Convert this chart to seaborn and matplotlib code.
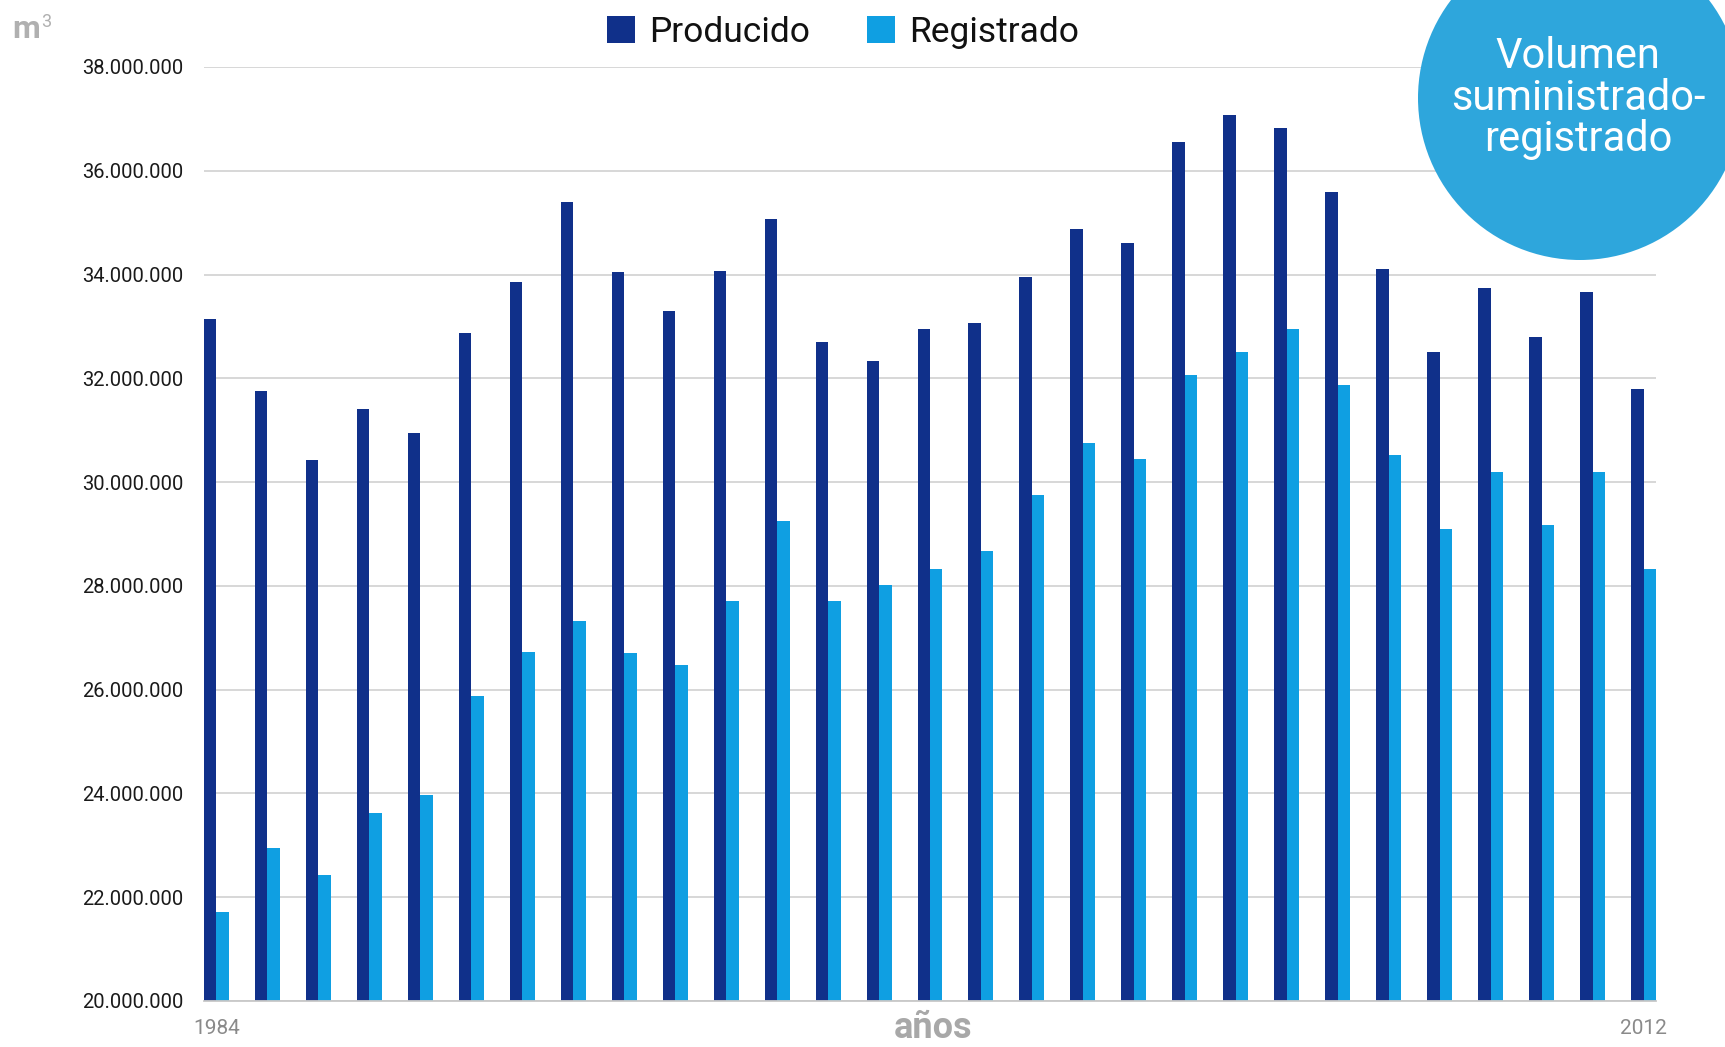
import matplotlib
matplotlib.use("Agg")
import matplotlib.pyplot as plt
from matplotlib.patches import Ellipse
from matplotlib.ticker import FuncFormatter
import pandas as pd
import seaborn as sns

# Annual volumes (m3)
years = [str(y) for y in range(1984, 2013)]
producido = [33.15, 31.75, 30.42, 31.40, 30.95, 32.88, 33.85, 35.40, 34.05, 33.30,
             34.07, 35.08, 32.70, 32.33, 32.95, 33.07, 33.95, 34.88, 34.60, 36.55,
             37.08, 36.82, 35.60, 34.10, 32.50, 33.75, 32.80, 33.67, 31.80]
registrado = [21.72, 22.95, 22.42, 23.62, 23.97, 25.88, 26.72, 27.33, 26.70, 26.48,
              27.70, 29.25, 27.70, 28.02, 28.33, 28.68, 29.75, 30.75, 30.45, 32.07,
              32.50, 32.95, 31.88, 30.52, 29.10, 30.20, 29.18, 30.20, 28.33]
series_names = ["Producido", "Registrado"]
tick_years = ["1984", "2012"]
panel_lines = ["Volumen", "suministrado-", "registrado"]

df = pd.DataFrame({
    "año": years * 2,
    "volumen": [v * 1e6 for v in producido] + [v * 1e6 for v in registrado],
    "serie": [series_names[0]] * len(years) + [series_names[1]] * len(years),
})

sns.set_theme(style="white")
plt.rcParams["font.family"] = ["Roboto", "DejaVu Sans"]

W, H = 1725, 1047
fig = plt.figure(figsize=(W / 100, H / 100), dpi=100)
ax = fig.add_axes([204 / W, 1 - 1001 / H, (1656 - 204) / W, (1001 - 67) / H])

sns.barplot(data=df, x="año", y="volumen", hue="serie", ax=ax,
            palette=["#10308a", "#0f9fe2"], width=0.49, gap=0,
            saturation=1, linewidth=0)

ax.set_xlim(-0.245, len(years) - 1 + 0.245)
ax.set_ylim(20e6, 38e6)
ax.set_yticks([20e6 + 2e6 * i for i in range(10)])
ax.yaxis.set_major_formatter(FuncFormatter(lambda v, p: f"{v:,.0f}".replace(",", ".")))
ax.grid(axis="y", color="#d4d4d4", linewidth=1.3)
ax.set_axisbelow(True)
for s in ["top", "right", "left"]:
    ax.spines[s].set_visible(False)
ax.spines["bottom"].set_color("#c8c8c8")
ax.spines["bottom"].set_linewidth(1.3)

ax.set_xticks([years.index(t) for t in tick_years])
ax.set_xticklabels(tick_years)
ax.tick_params(axis="x", length=0, pad=13, labelsize=15, labelcolor="#8a8a8a")
ax.tick_params(axis="y", length=0, pad=15, labelsize=14.5, labelcolor="#1a1a1a")
ax.set_xlabel("")
ax.set_ylabel("")

# Legend across the top
handles, labels = ax.get_legend_handles_labels()
ax.get_legend().remove()
fig.legend(handles, labels, loc="center", bbox_to_anchor=(843 / W, 1 - 32 / H),
           ncol=2, frameon=False, fontsize=25.5, handlelength=0.8, handleheight=0.8,
           handletextpad=0.4, columnspacing=1.6, labelcolor="#111111")

# Unit and axis caption
fig.text(12 / W, 1 - 38 / H, "m", fontsize=23, fontweight="bold", color="#b0b0b0",
         ha="left", va="baseline")
fig.text(41 / W, 1 - 27 / H, "3", fontsize=13, color="#b0b0b0", ha="left", va="baseline")
fig.text(933 / W, 1 - 1028 / H, "años", fontsize=26, fontweight="bold", color="#a8a8a8",
         ha="center", va="center")

# Title badge
r = 162
fig.add_artist(Ellipse((1580 / W, 1 - 98 / H), 2 * r / W, 2 * r / H,
                       transform=fig.transFigure, facecolor="#2ea6dc",
                       edgecolor="none", zorder=5))
for txt, yc in zip(panel_lines, [56, 98, 140]):
    fig.text(1578 / W, 1 - yc / H, txt, fontsize=30, fontweight="normal", color="white",
             ha="center", va="center", zorder=6)

fig.savefig("out.png", dpi=100)
